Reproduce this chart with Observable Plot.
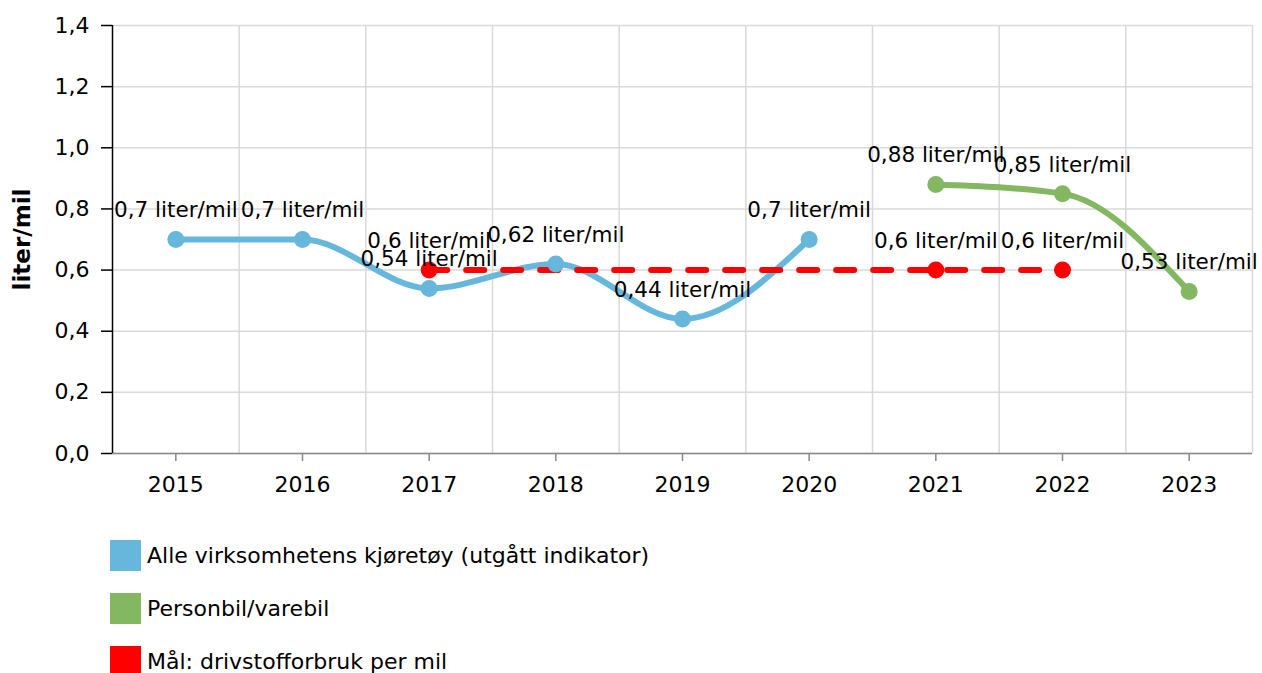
<!DOCTYPE html>
<html>
<head>
<meta charset="utf-8">
<script src="https://cdn.jsdelivr.net/npm/d3@7"></script>
<script src="https://cdn.jsdelivr.net/npm/@observablehq/plot@0.6"></script>
<style>
  html, body { margin: 0; padding: 0; background: #fff; font-family: "DejaVu Sans", Verdana, sans-serif; }
  #chart svg { display: block; }
  .legend { margin-left: 110px; margin-top: 20px; }
  .legend .item { display: flex; align-items: center; height: 31px; margin-bottom: 22px; font-size: 22px; color: #000; }
  .legend .sw { width: 31px; height: 31px; margin-right: 6px; }
</style>
</head>
<body>
<div id="chart"></div>
<div class="legend" id="legend"></div>
<script>
const years = [2015, 2016, 2017, 2018, 2019, 2020, 2021, 2022, 2023];
const alleKjoretoy = [0.7, 0.7, 0.54, 0.62, 0.44, 0.7, null, null, null];
const personbil = [null, null, null, null, null, null, 0.88, 0.85, 0.53];
const maal = [null, null, 0.6, null, null, null, 0.6, 0.6, null];
const yTicks = [0, 0.2, 0.4, 0.6, 0.8, 1.0, 1.2, 1.4];
const seriesNames = ["Alle virksomhetens kjøretøy (utgått indikator)", "Personbil/varebil", "Mål: drivstofforbruk per mil"];
const seriesColors = ["#67b7dc", "#84b761", "#ff0000"];

const toRows = (vals) => years.map((y, i) => ({year: y, value: vals[i]})).filter(d => d.value != null);
const blueRows = toRows(alleKjoretoy);
const greenRows = toRows(personbil);
const redRows = toRows(maal);
const fmtLabel = d => String(d.value).replace(".", ",") + " liter/mil";
const fmtTick = d => d3.format(".1f")(d).replace(".", ",");
const gridX = years.map(y => y + 0.5);

const font = "DejaVu Sans, Verdana, sans-serif";

const chart = Plot.plot({
  width: 1262,
  height: 520,
  marginLeft: 112,
  marginRight: 10,
  marginTop: 25,
  marginBottom: 67,
  style: {fontFamily: font, fontSize: "22px", color: "#000", background: "#fff"},
  x: {domain: [2014.5, 2023.5], axis: null},
  y: {domain: [0, 1.4], axis: null},
  marks: [
    Plot.gridY(yTicks, {stroke: "#d9d9d9", strokeOpacity: 1, strokeWidth: 1.5}),
    Plot.ruleX(gridX, {stroke: "#d9d9d9", strokeWidth: 1.5}),
    Plot.axisY(yTicks, {tickFormat: fmtTick, tickSize: 11, tickPadding: 12, fontSize: 22, stroke: "#000", strokeWidth: 1.5, label: null}),
    Plot.axisX(years, {tickFormat: d => String(d), tickSize: 8, tickPadding: 15, fontSize: 22, stroke: "#888", strokeWidth: 1.5, label: null}),
    Plot.ruleY([0], {stroke: "#888", strokeWidth: 1.5}),
    Plot.ruleX([2014.5], {stroke: "#000", strokeWidth: 1.5}),
    Plot.text(["liter/mil"], {frameAnchor: "left", textAnchor: "middle", dx: -90, rotate: -90, fontWeight: "bold", fontSize: 23, fill: "#000"}),
    Plot.line(blueRows, {x: "year", y: "value", stroke: seriesColors[0], strokeWidth: 6, curve: "monotone-x"}),
    Plot.line(greenRows, {x: "year", y: "value", stroke: seriesColors[1], strokeWidth: 6, curve: "monotone-x"}),
    Plot.line(redRows, {x: "year", y: "value", stroke: seriesColors[2], strokeWidth: 6, strokeDasharray: "18,19"}),
    Plot.dot(blueRows, {x: "year", y: "value", fill: seriesColors[0], r: 8.5}),
    Plot.dot(greenRows, {x: "year", y: "value", fill: seriesColors[1], r: 8.5}),
    Plot.dot(redRows, {x: "year", y: "value", fill: seriesColors[2], r: 8.5}),
    Plot.text(blueRows, {x: "year", y: "value", text: fmtLabel, dy: -29, fontSize: 21.5, fill: "#000"}),
    Plot.text(greenRows, {x: "year", y: "value", text: fmtLabel, dy: -29, fontSize: 21.5, fill: "#000"}),
    Plot.text(redRows, {x: "year", y: "value", text: fmtLabel, dy: -29, fontSize: 21.5, fill: "#000"})
  ]
});
document.getElementById("chart").appendChild(chart);

const legend = document.getElementById("legend");
seriesNames.forEach((name, i) => {
  const item = document.createElement("div");
  item.className = "item";
  const sw = document.createElement("div");
  sw.className = "sw";
  sw.style.background = seriesColors[i];
  const label = document.createElement("span");
  label.textContent = name;
  item.appendChild(sw);
  item.appendChild(label);
  legend.appendChild(item);
});
</script>
</body>
</html>
